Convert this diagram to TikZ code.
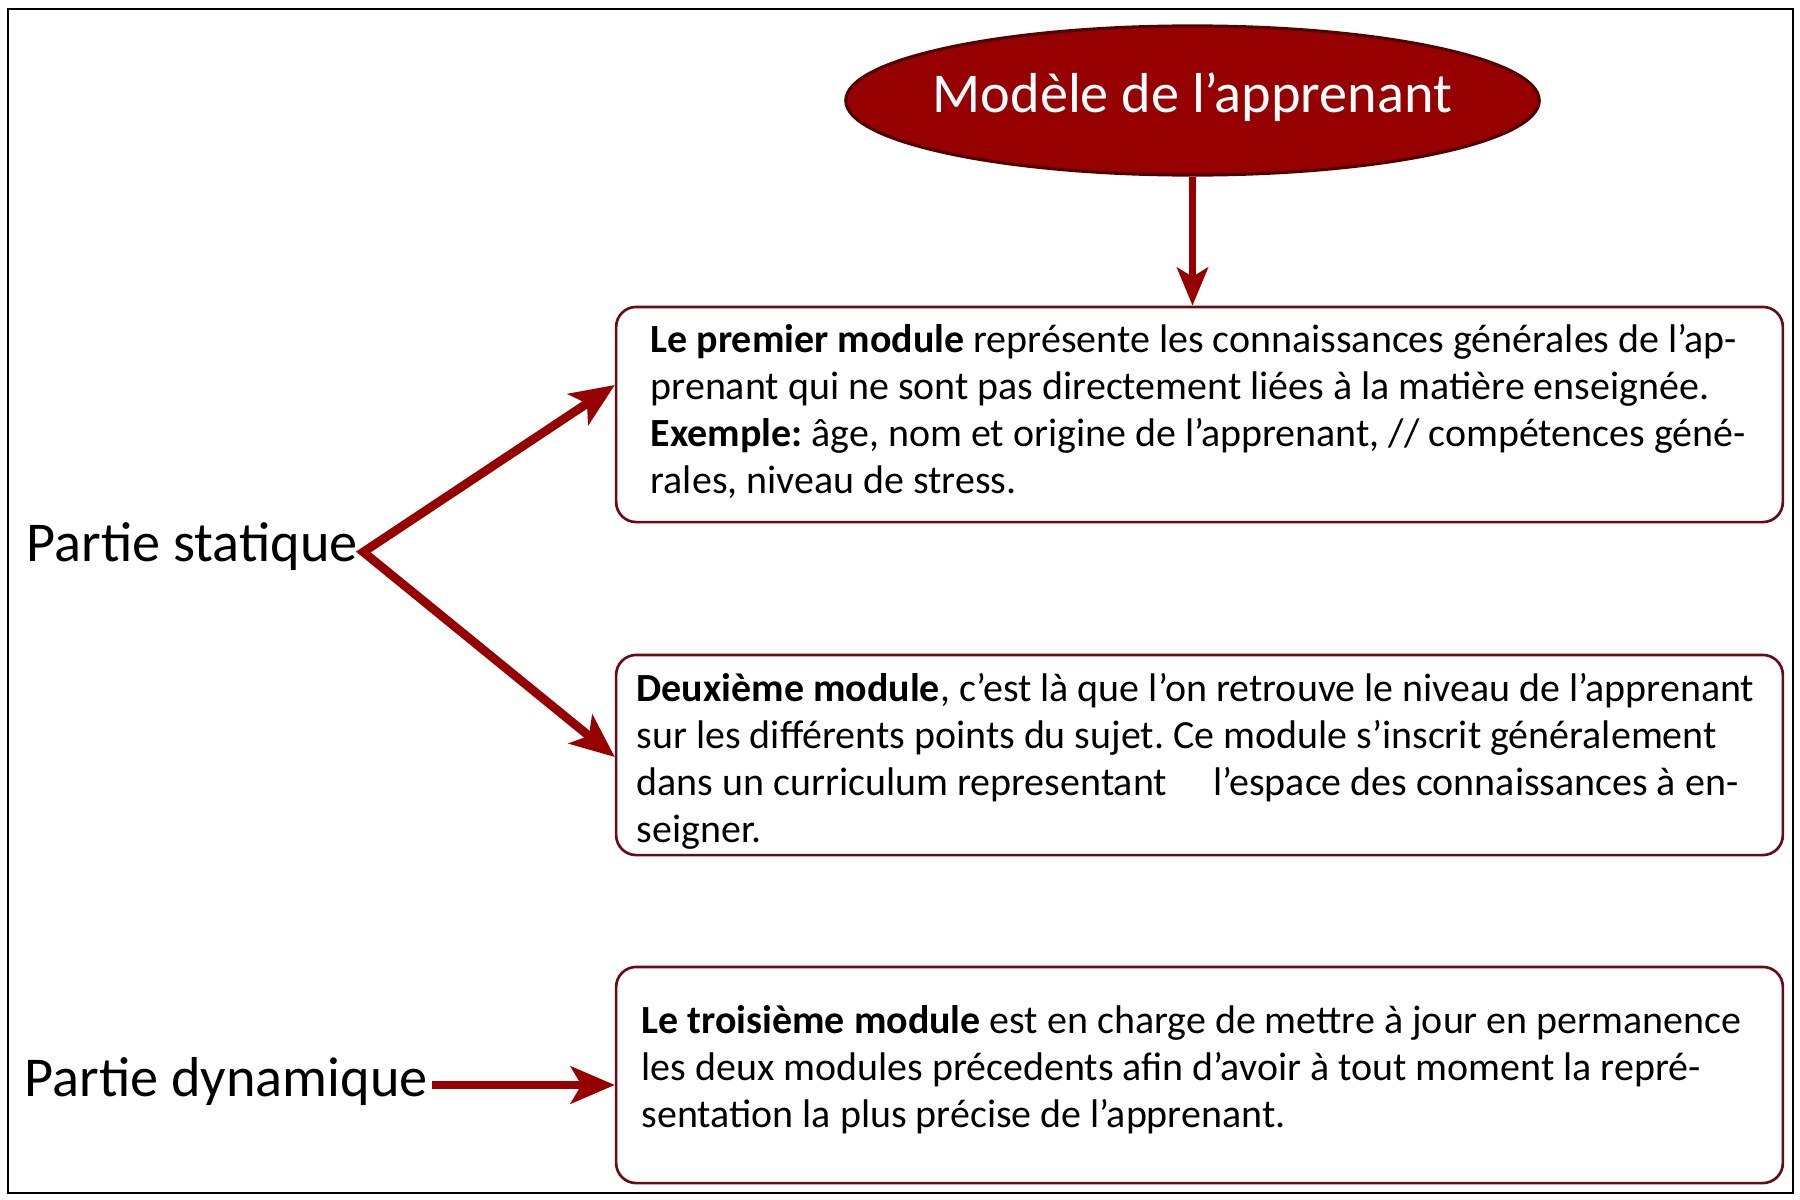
\documentclass[tikz,border=0pt]{standalone}
\usepackage{fontspec}
\setmainfont{Carlito}
\usetikzlibrary{arrows.meta,shapes.geometric,calc}
\definecolor{arrowred}{RGB}{150,0,0}
\definecolor{boxline}{RGB}{105,10,20}
\definecolor{ellline}{RGB}{85,0,0}
\frenchspacing
\newcommand\mylines[1]{\parbox[t]{12cm}{\fontsize{11.36pt}{0.47cm}\selectfont #1}}
\tikzset{
  bigtip/.tip={Stealth[length=12.5pt,width=10.5pt,inset=3pt]},
  smalltip/.tip={Stealth[length=10.8pt,width=8.8pt,inset=2.6pt]},
}
\begin{document}
\begin{tikzpicture}[x=0.01cm,y=-0.01cm,
  modbox/.style={draw=boxline,line width=0.75pt,rounded corners=0.2cm,inner sep=0,minimum width=11.66cm},
  txt/.style={inner sep=0,anchor=base west},
  side/.style={inner sep=0,anchor=base west,font=\fontsize{16pt}{19pt}\selectfont},
  bigarrow/.style={draw=arrowred,line width=2.5pt,line join=miter},
]
\useasboundingbox (0,0) rectangle (1800,1200);
\draw[line width=0.6pt] (8,9) rectangle (1793,1193);
% title ellipse
\node[ellipse,fill=arrowred,draw=ellline,line width=0.9pt,minimum width=6.93cm,minimum height=1.49cm,inner sep=0] (m) at (1192.5,100.5) {};
\node[inner sep=0,anchor=base,text=white,font=\fontsize{16pt}{19pt}\selectfont] (mtitle) at ($(m.center)+(0,11.5)$) {Modèle de l’apprenant};
% module boxes
\node[modbox,minimum height=2.15cm] (b1) at (1199.5,414.5) {};
\node[modbox,minimum height=2.00cm] (b2) at (1199.5,755) {};
\node[modbox,minimum height=2.16cm] (b3) at (1199.5,1075) {};
% box texts
\node[txt] (t1) at (650,352) {\mylines{%
\hbox{\textbf{Le premier module} représente les connaissances générales de l’ap-}%
\hbox{prenant qui ne sont pas directement liées à la matière enseignée.}%
\hbox{\textbf{Exemple:} âge, nom et origine de l’apprenant, // compétences géné-}%
\hbox{rales, niveau de stress.}}};
\node[txt] (t2) at (636,701) {\mylines{%
\hbox{\textbf{Deuxième module}, c’est là que l’on retrouve le niveau de l’apprenant}%
\hbox{sur les différents points du sujet. Ce module s’inscrit généralement}%
\hbox{dans un curriculum representant\hspace{0.37cm} l’espace des connaissances à en-}%
\hbox{seigner.}}};
\node[txt] (t3) at (641,1033) {\mylines{%
\hbox{\textbf{Le troisième module} est en charge de mettre à jour en permanence}%
\hbox{les deux modules précedents afin d’avoir à tout moment la repré-}%
\hbox{sentation la plus précise de l’apprenant.}}};
% side labels
\node[side] (ps) at (26,561) {Partie statique};
\node[side] (pd) at (24,1096) {Partie dynamique};
% connectors
\coordinate (apex) at ($(ps.base east)+(5,-9)$);
\draw[bigarrow,bigtip-bigtip] ($(b1.west)+(0,-29.5)$) -- (apex) -- ($(b2.west)+(0,2)$);
\coordinate (tipd) at ($(b3.west)+(0,10)$);
\draw[bigarrow,-bigtip] ($(pd.east |- tipd)+(4,0)$) -- (tipd);
\draw[draw=arrowred,line width=2pt,-smalltip] (m.south) -- (m.south |- b1.north);
\end{tikzpicture}
\end{document}
